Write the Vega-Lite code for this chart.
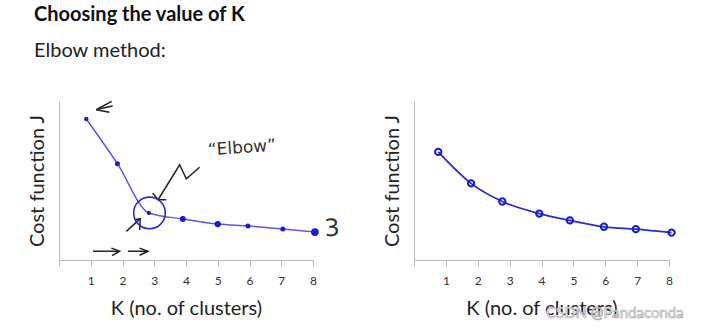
{
  "$schema": "https://vega.github.io/schema/vega-lite/v6.json",
  "background": "white",
  "padding": {"left": 26, "top": 5, "right": 5, "bottom": 5},
  "title": {
    "text": "Choosing the value of K",
    "subtitle": "Elbow method:",
    "anchor": "start",
    "frame": "bounds",
    "font": "Lato",
    "fontSize": 20,
    "fontWeight": "bold",
    "color": "#111111",
    "subtitleFont": "Lato",
    "subtitleFontSize": 20,
    "subtitleColor": "#222222",
    "subtitlePadding": 16,
    "offset": 37,
    "dx": 7
  },
  "datasets": {
    "left": [
      {"K": 0.86, "J": 88.7, "s": 20},
      {"K": 1.84, "J": 60.6, "s": 25},
      {"K": 2.83, "J": 29.6, "s": 18},
      {"K": 3.9, "J": 25.8, "s": 35},
      {"K": 5.0, "J": 22.6, "s": 40},
      {"K": 5.95, "J": 21.4, "s": 25},
      {"K": 7.05, "J": 19.5, "s": 25},
      {"K": 8.06, "J": 17.6, "s": 60}
    ],
    "right": [
      {"K": 0.76, "J": 68.0},
      {"K": 1.79, "J": 48.2},
      {"K": 2.77, "J": 36.8},
      {"K": 3.93, "J": 29.2},
      {"K": 4.89, "J": 24.9},
      {"K": 5.96, "J": 20.9},
      {"K": 6.96, "J": 19.4},
      {"K": 8.08, "J": 17.2}
    ],
    "strokes": [
      {"seg": "a1", "o": 1, "K": 1.17, "J": 94.5},
      {"seg": "a1", "o": 2, "K": 1.66, "J": 99.8},
      {"seg": "a2", "o": 1, "K": 1.17, "J": 94.5},
      {"seg": "a2", "o": 2, "K": 1.59, "J": 92.9},
      {"seg": "a3", "o": 1, "K": 1.25, "J": 95.0},
      {"seg": "a3", "o": 2, "K": 1.69, "J": 96.9},
      {"seg": "b1", "o": 1, "K": 1.07, "J": 5.5},
      {"seg": "b1", "o": 2, "K": 1.85, "J": 5.5},
      {"seg": "b2", "o": 1, "K": 1.65, "J": 7.5},
      {"seg": "b2", "o": 2, "K": 1.91, "J": 5.5},
      {"seg": "b2", "o": 3, "K": 1.67, "J": 2.7},
      {"seg": "b3", "o": 1, "K": 2.17, "J": 5.5},
      {"seg": "b3", "o": 2, "K": 2.8, "J": 5.5},
      {"seg": "b4", "o": 1, "K": 2.54, "J": 7.5},
      {"seg": "b4", "o": 2, "K": 2.8, "J": 5.5},
      {"seg": "b4", "o": 3, "K": 2.54, "J": 3.0},
      {"seg": "z1", "o": 1, "K": 4.43, "J": 58.3},
      {"seg": "z1", "o": 2, "K": 4.01, "J": 51.1},
      {"seg": "z1", "o": 3, "K": 3.8, "J": 59.9},
      {"seg": "z1", "o": 4, "K": 3.12, "J": 37.9},
      {"seg": "z2", "o": 1, "K": 2.95, "J": 42.1},
      {"seg": "z2", "o": 2, "K": 3.12, "J": 37.9},
      {"seg": "z2", "o": 3, "K": 3.38, "J": 37.9},
      {"seg": "c1", "o": 1, "K": 2.12, "J": 18.0},
      {"seg": "c1", "o": 2, "K": 2.56, "J": 26.0},
      {"seg": "c2", "o": 1, "K": 2.38, "J": 25.3},
      {"seg": "c2", "o": 2, "K": 2.56, "J": 26.0},
      {"seg": "c2", "o": 3, "K": 2.54, "J": 18.9}
    ],
    "circle": [{"K": 2.85, "J": 29.6}],
    "notes": [
      {"K": 5.76, "J": 70.4, "t": "\u201cElbow\u201d", "fs": 17},
      {"K": 8.6, "J": 19.5, "t": "3", "fs": 24}
    ],
    "mark": [{"K": 6.3, "J": -33.4, "t": "CSDN @Pandaconda"}]
  },
  "config": {
    "view": {"stroke": null},
    "axis": {
      "grid": false,
      "domainColor": "#bbbbbb",
      "tickColor": "#bbbbbb",
      "labelFont": "Lato",
      "labelColor": "#333333",
      "titleFont": "Lato",
      "titleFontWeight": "normal",
      "titleColor": "#222222",
      "titleFontSize": 20
    }
  },
  "spacing": 40,
  "hconcat": [
    {
      "width": 254,
      "height": 159,
      "encoding": {
        "x": {
          "field": "K", "type": "quantitative",
          "scale": {"domain": [0, 8], "nice": false},
          "axis": {
            "values": [0, 1, 2, 3, 4, 5, 6, 7, 8],
            "labelExpr": "datum.value < 0.5 ? '' : format(datum.value, 'd')",
            "labelOverlap": false, "labelBound": false, "labelFlush": false,
            "tickSize": 6, "labelPadding": 9, "labelFontSize": 12,
            "title": "K (no. of clusters)", "titlePadding": 12
          }
        },
        "y": {
          "field": "J", "type": "quantitative",
          "scale": {"domain": [0, 100], "nice": false},
          "axis": {"labels": false, "ticks": false, "title": "Cost function J", "titlePadding": 12}
        }
      },
      "layer": [
        {
          "data": {"name": "left"},
          "mark": {"type": "line", "color": "#5a5ae0", "strokeWidth": 1.5, "interpolate": "monotone"}
        },
        {
          "data": {"name": "left"},
          "mark": {"type": "point", "filled": true, "color": "#1a1ad0", "opacity": 1},
          "encoding": {
            "size": {"field": "s", "type": "quantitative", "scale": null}
          }
        },
        {
          "data": {"name": "strokes"},
          "mark": {"type": "line", "color": "#222222", "strokeWidth": 1.5},
          "encoding": {
            "detail": {"field": "seg"},
            "order": {"field": "o"}
          }
        },
        {
          "data": {"name": "circle"},
          "mark": {"type": "point", "filled": false, "color": "#2b2bd6", "strokeWidth": 1.6, "size": 1000, "opacity": 1}
        },
        {
          "data": {"name": "notes"},
          "mark": {"type": "text", "font": "DejaVu Sans", "color": "#333333", "angle": 356},
          "encoding": {
            "text": {"field": "t"},
            "size": {"field": "fs", "type": "quantitative", "scale": null}
          }
        }
      ]
    },
    {
      "width": 255,
      "height": 159,
      "encoding": {
        "x": {
          "field": "K", "type": "quantitative",
          "scale": {"domain": [0, 8], "nice": false},
          "axis": {
            "values": [0, 1, 2, 3, 4, 5, 6, 7, 8],
            "labelExpr": "datum.value < 0.5 ? '' : format(datum.value, 'd')",
            "labelOverlap": false, "labelBound": false, "labelFlush": false,
            "tickSize": 6, "labelPadding": 9, "labelFontSize": 12,
            "title": "K (no. of clusters)", "titlePadding": 12
          }
        },
        "y": {
          "field": "J", "type": "quantitative",
          "scale": {"domain": [0, 100], "nice": false},
          "axis": {"labels": false, "ticks": false, "title": "Cost function J", "titlePadding": 12}
        }
      },
      "layer": [
        {
          "data": {"name": "right"},
          "mark": {"type": "line", "color": "#2a2ad8", "strokeWidth": 1.8, "interpolate": "monotone"}
        },
        {
          "data": {"name": "right"},
          "mark": {"type": "point", "filled": false, "color": "#1a1ad0", "strokeWidth": 2, "size": 40, "opacity": 1}
        },
        {
          "data": {"name": "mark"},
          "mark": {"type": "text", "font": "Lato", "fontSize": 15, "fill": "#ffffff", "stroke": "#aaaaaa", "strokeWidth": 0.7},
          "encoding": {
            "text": {"field": "t"}
          }
        }
      ]
    }
  ]
}
